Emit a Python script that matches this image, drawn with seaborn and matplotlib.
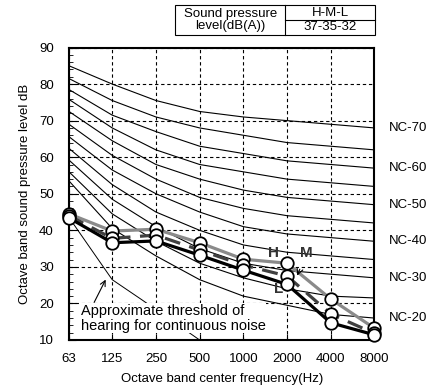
import numpy as np
import pandas as pd
import matplotlib
matplotlib.use("Agg")
import matplotlib.pyplot as plt
import seaborn as sns
from matplotlib.ticker import MultipleLocator, NullLocator, FixedLocator

# Octave bands
freqs = [63, 125, 250, 500, 1000, 2000, 4000, 8000]
freq_labels = ["63", "125", "250", "500", "1000", "2000", "4000", "8000"]

# Measured sound pressure levels (H / M / L fan speed)
level_h = [44.5, 39.8, 40.3, 36.6, 32.1, 31.0, 21.2, 13.2]
level_m = [44.0, 37.8, 38.7, 34.6, 30.5, 27.5, 17.1, 11.8]
level_l = [43.4, 36.6, 37.1, 33.2, 29.1, 25.2, 14.7, 11.4]

# NC reference curves
nc_names = ["NC-70", "NC-65", "NC-60", "NC-55", "NC-50", "NC-45",
            "NC-40", "NC-35", "NC-30", "NC-25", "NC-20"]
nc_values = [
    [85.0, 80.0, 75.5, 72.5, 71.0, 70.0, 69.0, 68.0],
    [81.5, 75.5, 71.0, 68.0, 66.0, 64.0, 63.0, 62.0],
    [78.5, 71.5, 67.0, 63.0, 61.0, 59.0, 58.0, 57.0],
    [75.8, 68.0, 62.0, 58.0, 56.0, 54.0, 53.0, 52.0],
    [72.5, 64.5, 58.0, 54.0, 51.0, 49.0, 48.0, 47.0],
    [69.0, 60.5, 54.0, 49.0, 46.0, 44.0, 43.0, 42.0],
    [65.6, 56.5, 50.0, 45.0, 41.0, 39.0, 38.0, 37.0],
    [62.4, 52.5, 45.0, 40.0, 36.0, 34.0, 33.0, 32.0],
    [59.2, 48.5, 41.0, 35.0, 31.0, 29.0, 28.0, 27.0],
    [56.0, 44.5, 37.0, 31.0, 27.0, 24.0, 22.0, 21.5],
    [53.5, 40.5, 33.0, 26.5, 22.0, 19.5, 17.0, 16.0],
]
nc_labelled = ["NC-70", "NC-60", "NC-50", "NC-40", "NC-30", "NC-20"]

# Approximate threshold of hearing
thr_freqs = [63, 125, 200, 500]
thr_values = [43.5, 26.5, 21.0, 10.0]

# Table text
table_left = "Sound pressure\nlevel(dB(A))"
table_top = "H-M-L"
table_bottom = "37-35-32"

plt.rcParams["font.family"] = ["Liberation Sans", "DejaVu Sans"]
plt.rcParams["font.size"] = 9.5

fig = plt.figure(figsize=(4.27, 3.90), dpi=100)
ax = fig.add_axes([69 / 427, 1 - 340 / 390, (374.5 - 69) / 427, (340 - 47.5) / 390])

# NC curves
for name, vals in zip(nc_names, nc_values):
    sns.lineplot(x=freqs, y=vals, ax=ax, color="black", lw=0.8, zorder=2)
    if name in nc_labelled:
        ax.annotate(name, xy=(freqs[-1], vals[-1]), xytext=(10, 0),
                    textcoords="offset points", va="center", ha="left",
                    fontsize=9.5, annotation_clip=False)

# threshold of hearing
sns.lineplot(x=thr_freqs, y=thr_values, ax=ax, color="black", lw=0.7, zorder=2)

# measured data
series = [("H", level_h, "#8a8a8a", "-"),
          ("M", level_m, "#404040", (0, (5, 3))),
          ("L", level_l, "black", "-")]
for name, vals, col, ls in series:
    sns.lineplot(x=freqs, y=vals, ax=ax, color=col, lw=2.3, linestyle=ls,
                 marker="o", markersize=9, markerfacecolor="white",
                 markeredgecolor="black", markeredgewidth=1.3, zorder=5,
                 clip_on=False)

ax.set_xscale("log", base=2)
ax.set_xlim(63, 8000)
ax.set_ylim(10, 90)
ax.xaxis.set_major_locator(FixedLocator(freqs))
ax.xaxis.set_minor_locator(NullLocator())
ax.set_xticklabels(freq_labels)
ax.yaxis.set_major_locator(MultipleLocator(10))
ax.yaxis.set_minor_locator(MultipleLocator(2))
ax.tick_params(axis="both", which="both", direction="in", colors="black",
               labelsize=9.5)
ax.tick_params(axis="y", which="major", length=5, pad=11)
ax.tick_params(axis="y", which="minor", length=3)
ax.tick_params(axis="x", which="major", length=4, pad=9)
ax.grid(True, which="major", color="black", lw=0.8, ls=(0, (3, 2.5)))
for s in ax.spines.values():
    s.set_linewidth(1.5)
    s.set_color("black")

ax.set_xlabel("Octave band center frequency(Hz)", fontsize=9.5, labelpad=6)
ax.set_ylabel("Octave band sound pressure level dB", fontsize=9.5, labelpad=6)

# annotations
ax.text(76, 16.0, "Approximate threshold of\nhearing for continuous noise",
        ha="left", va="center", fontsize=10.5, zorder=3, linespacing=1.1,
        bbox=dict(facecolor="white", edgecolor="none", pad=0.5))
ax.annotate("", xy=(115, 27.2), xytext=(92, 19.6), zorder=4,
            arrowprops=dict(arrowstyle="->", lw=0.8, color="black"))
ax.text(1610, 33.8, "H", ha="center", va="center", fontsize=11,
        fontweight="bold", color="#333333", zorder=6)
ax.annotate("M", xy=(2350, 27.6), xytext=(2710, 33.8), ha="center",
            va="center", fontsize=11, fontweight="bold", color="#333333",
            zorder=6, arrowprops=dict(arrowstyle="->", lw=0.8, color="black",
                                      shrinkA=5, shrinkB=0))
ax.text(1740, 24.0, "L", ha="center", va="center", fontsize=11,
        fontweight="bold", color="#333333", zorder=6)

# table at the top
W, H = 427, 390
def fx(px):
    return px / W
def fy(py):
    return 1 - py / H

x0, x1, xm = 175.5, 375.5, 285
y0, y1, ym = 5, 35, 20
fig.add_artist(plt.Rectangle((fx(x0), fy(y1)), fx(x1) - fx(x0), fy(y0) - fy(y1),
                             fill=False, ec="black", lw=0.8,
                             transform=fig.transFigure))
fig.add_artist(plt.Line2D([fx(xm), fx(xm)], [fy(y0), fy(y1)], color="black",
                          lw=0.8, transform=fig.transFigure))
fig.add_artist(plt.Line2D([fx(xm), fx(x1)], [fy(ym), fy(ym)], color="black",
                          lw=0.8, transform=fig.transFigure))
fig.text(fx((x0 + xm) / 2), fy((y0 + y1) / 2), table_left, ha="center",
         va="center", fontsize=9.5, linespacing=0.9)
fig.text(fx((xm + x1) / 2), fy((y0 + ym) / 2), table_top, ha="center",
         va="center", fontsize=9.5)
fig.text(fx((xm + x1) / 2), fy((ym + y1) / 2), table_bottom, ha="center",
         va="center", fontsize=9.5)

fig.savefig("out.png", dpi=100)
